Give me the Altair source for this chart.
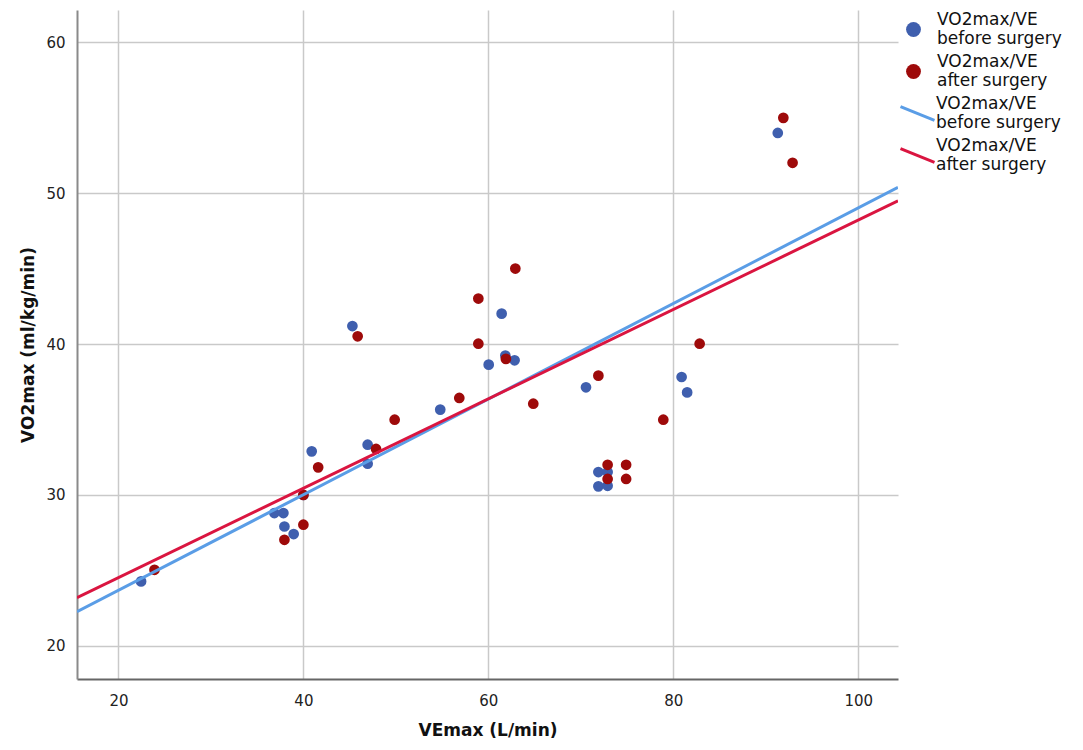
import altair as alt
import pandas as pd

# --- data ---
before_x = [22.45, 36.86, 37.84, 37.95, 38.95, 40.0, 40.9, 46.95, 46.95, 45.3, 54.8,
            60.04, 61.44, 61.84, 62.84, 70.56, 71.9, 72.9, 71.9, 72.9, 80.9, 81.5, 91.3]
before_y = [24.27, 28.80, 28.80, 27.91, 27.41, 30.0, 32.89, 33.33, 32.07, 41.2, 35.66,
            38.64, 42.02, 39.24, 38.93, 37.14, 31.52, 31.52, 30.57, 30.61, 37.82, 36.80, 54.0]
after_x = [23.9, 37.95, 40.0, 40.0, 41.6, 47.86, 49.87, 45.87, 56.86, 58.92, 58.92,
           61.9, 62.92, 64.86, 71.9, 72.9, 74.9, 72.9, 74.9, 78.92, 82.85, 91.9, 92.9]
after_y = [25.04, 27.03, 28.03, 30.0, 31.83, 33.05, 34.99, 40.52, 36.43, 43.02, 40.03,
           39.02, 45.01, 36.05, 37.91, 32.0, 32.0, 31.06, 31.06, 34.99, 40.03, 55.0, 52.02]

# fitted lines (at the plot edges)
fit_x = [15.52, 104.3]
before_fit_y = [22.26, 50.39]
after_fit_y = [23.19, 49.50]

groups = ["before", "after"]
x_ticks = [20, 40, 60, 80, 100]
y_ticks = [20, 30, 40, 50, 60]
x_domain = [15.52, 104.3]
y_domain = [17.8, 62.15]

point_colors = ["#3f5fae", "#9e0a0a"]
line_colors = ["#5a9de6", "#da1540"]

pts = pd.concat([
    pd.DataFrame({"VEmax": before_x, "VO2max": before_y, "grp": "before"}),
    pd.DataFrame({"VEmax": after_x, "VO2max": after_y, "grp": "after"}),
], ignore_index=True)

fits = pd.concat([
    pd.DataFrame({"VEmax": fit_x, "VO2max": before_fit_y, "fit": "before"}),
    pd.DataFrame({"VEmax": fit_x, "VO2max": after_fit_y, "fit": "after"}),
], ignore_index=True)

label_expr = ("datum.label == 'before' ? ['VO2max/VE', 'before surgery'] : "
              "['VO2max/VE', 'after surgery']")

x_enc = alt.X("VEmax:Q", scale=alt.Scale(domain=x_domain, nice=False, zero=False),
              axis=alt.Axis(values=x_ticks, title="VEmax (L/min)"))
y_enc = alt.Y("VO2max:Q", scale=alt.Scale(domain=y_domain, nice=False, zero=False),
              axis=alt.Axis(values=y_ticks, title="VO2max (ml/kg/min)"))

points = alt.Chart(pts).mark_circle(size=115, opacity=1).encode(
    x=x_enc, y=y_enc,
    fill=alt.Fill("grp:N", scale=alt.Scale(domain=groups, range=point_colors),
                  legend=alt.Legend(title=None, symbolType="circle", symbolSize=220,
                                    labelExpr=label_expr, orient="none",
                                    legendX=828, legendY=11, labelOffset=15,
                                    rowPadding=5)),
)

lines = alt.Chart(fits).mark_line(strokeWidth=3, clip=True).encode(
    x=x_enc, y=y_enc,
    stroke=alt.Stroke("fit:N", scale=alt.Scale(domain=groups, range=line_colors),
                      legend=alt.Legend(title=None, symbolType="M-1,-0.4L1,0.4",
                                        symbolSize=1156, symbolStrokeWidth=3,
                                        labelExpr=label_expr, orient="none",
                                        legendX=822, legendY=85, labelOffset=0,
                                        rowPadding=5)),
    order=alt.Order("VEmax:Q"),
)

chart = alt.layer(points, lines).resolve_legend(
    fill="independent", stroke="independent"
).properties(
    width=821, height=669,
    autosize=alt.AutoSizeParams(type="none"),
    padding={"left": 69, "top": 2, "right": 177, "bottom": 63},
).configure_view(stroke=None).configure_axis(
    gridColor="#c9c9c9", gridWidth=1.5, tickSize=0,
    labelFont="DejaVu Sans", labelFontSize=15, labelColor="#222",
    titleFont="DejaVu Sans", titleFontSize=17, titleFontWeight="bold", titleColor="#111",
    domainColor="#8a8a8a", domainWidth=2,
).configure_axisX(labelPadding=14, titlePadding=14, domainColor="#666").configure_axisY(
    labelPadding=12, titlePadding=8
).configure_legend(
    labelFont="DejaVu Sans", labelFontSize=17, labelColor="#111", labelLimit=0,
    padding=0, labelBaseline="line-bottom",
)

chart.save("out.html", embed_options={"renderer": "svg", "actions": False})
